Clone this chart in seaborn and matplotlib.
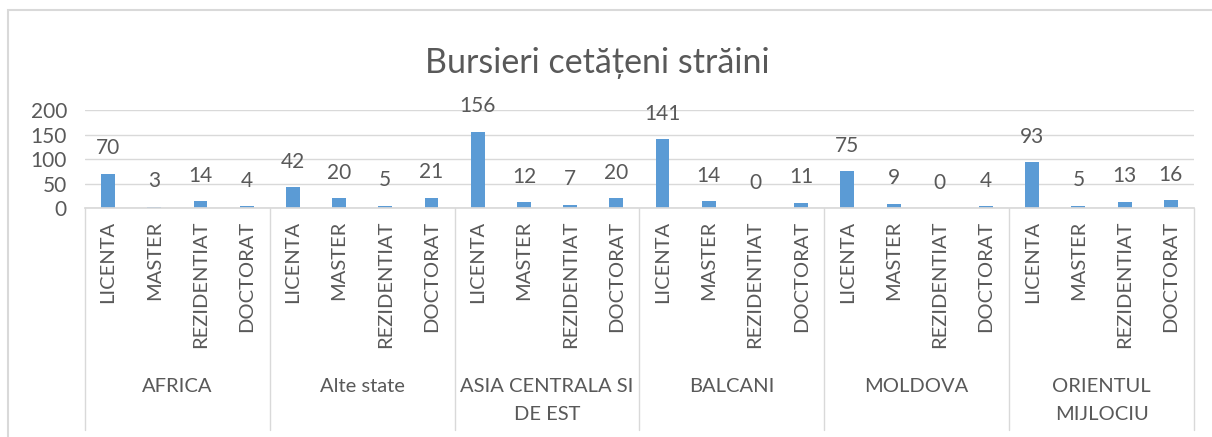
import pandas as pd
import seaborn as sns
import matplotlib.pyplot as plt
from matplotlib.patches import Rectangle

# data
regions = ['AFRICA', 'Alte state', 'ASIA CENTRALA SI\nDE EST', 'BALCANI', 'MOLDOVA', 'ORIENTUL\nMIJLOCIU']
levels = ['LICENTA', 'MASTER', 'REZIDENTIAT', 'DOCTORAT']
africa = [70, 3, 14, 4]
alte_state = [42, 20, 5, 21]
asia = [156, 12, 7, 20]
balcani = [141, 14, 0, 11]
moldova = [75, 9, 0, 4]
orientul = [93, 5, 13, 16]
yticks = [0, 50, 100, 150, 200]

values = [africa, alte_state, asia, balcani, moldova, orientul]
rows = []
for reg, vals in zip(regions, values):
    for lev, v in zip(levels, vals):
        rows.append({'region': reg, 'level': lev, 'value': v, 'key': reg + '|' + lev})
df = pd.DataFrame(rows)

sns.set_theme(style='white')
plt.rcParams['font.family'] = ['Lato', 'DejaVu Sans']

BLUE = '#5B9BD5'
GRID = '#D9D9D9'
TXT = '#595959'

fig = plt.figure(figsize=(12.12, 4.37), dpi=100)
ax = fig.add_axes([0.0701, 0.524, 0.9150, 0.224])

sns.barplot(data=df, x='key', y='value', order=list(df['key']), color=BLUE,
            width=0.3, saturation=1, linewidth=0, ax=ax)

ax.set_ylim(0, 200)
ax.set_xlim(-0.5, len(df) - 0.5)
ax.set_yticks(yticks)
ax.set_yticklabels([str(t) for t in yticks], fontsize=15, color=TXT)
ax.yaxis.grid(True, color=GRID, linewidth=1)
ax.set_axisbelow(True)
ax.set_xlabel('')
ax.set_ylabel('')
ax.set_xticks(range(len(df)))
ax.set_xticklabels(df['level'], rotation=90, fontsize=14.5, color=TXT, va='top')
ax.tick_params(axis='x', length=0, pad=9)
ax.tick_params(axis='y', length=0, pad=13)
for s in ['top', 'right', 'left']:
    ax.spines[s].set_visible(False)
ax.spines['bottom'].set_color(GRID)

# value labels
for i, v in enumerate(df['value']):
    ax.annotate(str(v), (i, v), xytext=(0, 11), textcoords='offset points',
                ha='center', va='bottom', fontsize=15, color=TXT, clip_on=False)

# group separators and region labels
trans = ax.get_xaxis_transform()
for g in range(len(regions) + 1):
    x = g * 4 - 0.5
    ax.plot([x, x], [0, -2.27], transform=trans, color=GRID, lw=1, clip_on=False)
for g, reg in enumerate(regions):
    ax.text(g * 4 + 1.5, -1.74, reg, transform=trans, ha='center', va='top',
            fontsize=14.5, color=TXT, linespacing=1.75)

fig.text(0.4925, 0.855, 'Bursieri cetățeni străini', ha='center', va='center',
         fontsize=24.5, color=TXT)

# chart border
fig.patches.append(Rectangle((8 / 1212, -0.1), 1.2, 1 - 10 / 437 + 0.1,
                             transform=fig.transFigure, fill=False,
                             edgecolor=GRID, lw=1.5))

fig.savefig('out.png', dpi=100)
